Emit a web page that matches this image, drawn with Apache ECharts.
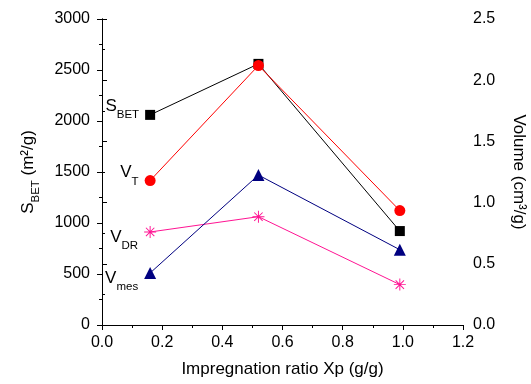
<!DOCTYPE html>
<html><head><meta charset="utf-8">
<script src="https://cdn.jsdelivr.net/npm/echarts@6/dist/echarts.min.js"></script>
<style>html,body{margin:0;padding:0;background:#fff}#c{width:531px;height:384px}</style>
</head><body><div id="c"></div>
<script>
const xValues = [0.16, 0.52, 0.99];
const sBET = [2060, 2560, 921];
const vT = [1.18, 2.12, 0.935];
const vDR = [0.76, 0.885, 0.33];
const vMes = [0.425, 1.225, 0.615];
const seriesLabels = [
  {main: 'S', sub: 'BET'},
  {main: 'V', sub: 'T'},
  {main: 'V', sub: 'DR'},
  {main: 'V', sub: 'mes'}
];

const FONT = 'Liberation Sans, Arial, sans-serif';
const asterisk = 'path://M-0.8,-10 L0.8,-10 L0.8,10 L-0.8,10 Z M-10,0.8 L-10,-0.8 L10,-0.8 L10,0.8 Z M-7.57,-6.43 L-6.43,-7.57 L7.57,6.43 L6.43,7.57 Z M6.43,-7.57 L7.57,-6.43 L-6.43,7.57 L-7.57,6.43 Z';

function pairs(vals) { return xValues.map((x, i) => [x, vals[i]]); }

const rich = {
  m: {fontSize: 17, fontFamily: FONT, color: '#000', lineHeight: 30, verticalAlign: 'middle'},
  s: {fontSize: 11.5, fontFamily: FONT, color: '#000', lineHeight: 30, verticalAlign: 'bottom'}
};

function labelled(vals, idx, offsetY) {
  return pairs(vals).map((p, i) => i === 0 ? {
    value: p,
    label: {show: true, position: 'left', distance: 6, offset: [0, offsetY],
      formatter: '{m|' + seriesLabels[idx].main + '}{s|' + seriesLabels[idx].sub + '}', rich: rich}
  } : {value: p});
}

const chart = echarts.init(document.getElementById('c'), null, {renderer: 'canvas'});
const axisCommon = {
  axisLine: {show: true, lineStyle: {color: '#000', width: 1}},
  splitLine: {show: false}
};
chart.setOption({
  animation: false,
  backgroundColor: '#fff',
  grid: {left: 102, right: 68, top: 19, bottom: 59, containLabel: false, outerBoundsMode: 'none'},
  xAxis: [
    Object.assign({}, axisCommon, {
      type: 'value', min: 0, max: 1.2, interval: 0.2, position: 'bottom',
      axisTick: {show: true, inside: false, length: 5, lineStyle: {color: '#000'}},
      minorTick: {show: true, splitNumber: 2, length: 3, lineStyle: {color: '#000'}},
      axisLabel: {color: '#000', fontSize: 16, fontFamily: FONT, margin: 10, formatter: v => v.toFixed(1)},
      name: 'Impregnation ratio Xp (g/g)', nameLocation: 'middle', nameGap: 36,
      nameTextStyle: {fontSize: 17, fontFamily: FONT, color: '#000'}
    }),
    {
      type: 'value', min: 0, max: 1.2, interval: 0.2, position: 'top',
      axisLine: {show: true, lineStyle: {color: '#000', width: 1}},
      axisTick: {show: true, inside: true, length: 3, lineStyle: {color: '#000'}},
      minorTick: {show: true, splitNumber: 2, length: 3, lineStyle: {color: '#000'}},
      axisLabel: {show: false}, splitLine: {show: false}
    }
  ],
  yAxis: [
    Object.assign({}, axisCommon, {
      type: 'value', min: 0, max: 3000, interval: 500, position: 'left',
      axisTick: {show: true, inside: false, length: 5, lineStyle: {color: '#000'}},
      minorTick: {show: true, splitNumber: 2, length: 3, lineStyle: {color: '#000'}},
      axisLabel: {color: '#000', fontSize: 16, fontFamily: FONT, margin: 12, formatter: v => String(v)},
      name: '{m|S}{s|BET}{m| (m²/g)}', nameLocation: 'middle', nameGap: 60, nameRotate: 90,
      nameTextStyle: {rich: {
        m: {fontSize: 17, fontFamily: FONT, color: '#000', lineHeight: 28, verticalAlign: 'middle'},
        s: {fontSize: 11.5, fontFamily: FONT, color: '#000', lineHeight: 28, verticalAlign: 'bottom'}
      }}
    }),
    Object.assign({}, axisCommon, {
      type: 'value', min: 0, max: 2.5, interval: 0.5, position: 'right',
      axisTick: {show: true, inside: false, length: 5, lineStyle: {color: '#000'}},
      minorTick: {show: true, splitNumber: 2, length: 3, lineStyle: {color: '#000'}},
      axisLabel: {color: '#000', fontSize: 16, fontFamily: FONT, margin: 10, formatter: v => v.toFixed(1)},
      name: 'Volume (cm³/g)', nameLocation: 'middle', nameGap: 47, nameRotate: -90,
      nameTextStyle: {fontSize: 17, fontFamily: FONT, color: '#000'}
    })
  ],
  series: [
    {type: 'line', name: 'SBET', xAxisIndex: 0, yAxisIndex: 0, data: labelled(sBET, 0, -9),
      symbol: 'rect', symbolSize: 10, lineStyle: {color: '#000', width: 1}, itemStyle: {color: '#000'}, z: 2},
    {type: 'line', name: 'VT', xAxisIndex: 0, yAxisIndex: 1, data: labelled(vT, 1, -8),
      symbol: 'circle', symbolSize: 11, lineStyle: {color: '#ff0000', width: 1}, itemStyle: {color: '#ff0000'}, z: 3},
    {type: 'line', name: 'VDR', xAxisIndex: 0, yAxisIndex: 1, data: labelled(vDR, 2, 5),
      symbol: asterisk, symbolSize: 12, lineStyle: {color: '#ff1493', width: 1}, itemStyle: {color: '#ff1493'}, z: 3},
    {type: 'line', name: 'Vmes', xAxisIndex: 0, yAxisIndex: 1, data: labelled(vMes, 3, 5),
      symbol: 'triangle', symbolSize: 12, lineStyle: {color: '#000080', width: 1}, itemStyle: {color: '#000080'}, z: 3}
  ]
});
</script></body></html>
